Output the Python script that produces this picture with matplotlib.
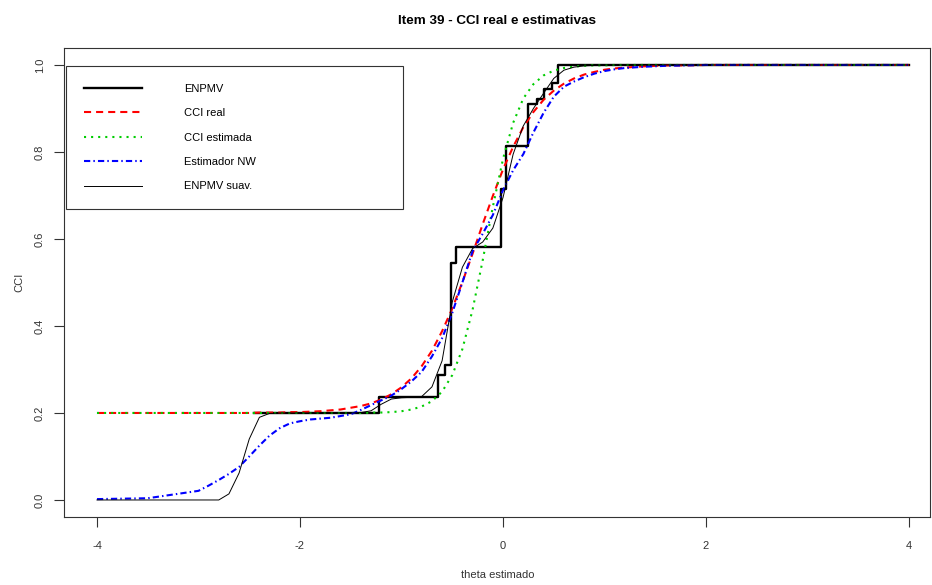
import matplotlib
matplotlib.use("Agg")
import matplotlib.pyplot as plt

plt.rcParams['font.family'] = ['Liberation Sans', 'DejaVu Sans']
plt.rcParams['axes.unicode_minus'] = False

# grid of theta values used for the smooth curves
theta = [-4.0, -3.5, -3.0, -2.9, -2.8, -2.7, -2.6, -2.5, -2.4, -2.3, -2.2, -2.1,
         -2.0, -1.9, -1.8, -1.7, -1.6, -1.5, -1.4, -1.3, -1.2, -1.1, -1.0, -0.9,
         -0.8, -0.7, -0.6, -0.5, -0.4, -0.3, -0.2, -0.1, 0.0, 0.1, 0.2, 0.3,
         0.4, 0.5, 0.6, 0.7, 0.8, 0.9, 1.0, 1.1, 1.2, 1.4, 1.6, 1.8, 2.0,
         2.5, 3.0, 3.5, 4.0]

cci_real = [0.200, 0.200, 0.200, 0.200, 0.200, 0.200, 0.200, 0.200, 0.201, 0.201, 0.201, 0.202,
            0.202, 0.203, 0.204, 0.206, 0.208, 0.212, 0.216, 0.222, 0.231, 0.243, 0.259, 0.280,
            0.308, 0.343, 0.388, 0.440, 0.501, 0.566, 0.634, 0.699, 0.760, 0.812, 0.857, 0.892,
            0.920, 0.941, 0.957, 0.969, 0.978, 0.984, 0.989, 0.992, 0.994, 0.997, 0.999, 0.999, 1.000,
            1.000, 1.000, 1.000, 1.000]

cci_est = [0.200, 0.200, 0.200, 0.200, 0.200, 0.200, 0.200, 0.200, 0.200, 0.200, 0.200, 0.200,
           0.200, 0.200, 0.200, 0.200, 0.200, 0.200, 0.200, 0.201, 0.201, 0.202, 0.204, 0.208,
           0.215, 0.227, 0.249, 0.287, 0.347, 0.437, 0.551, 0.674, 0.784, 0.867, 0.923, 0.956,
           0.976, 0.987, 0.993, 0.996, 0.998, 0.999, 0.999, 1.000, 1.000, 1.000, 1.000, 1.000, 1.000,
           1.000, 1.000, 1.000, 1.000]

nw = [0.002, 0.004, 0.021, 0.033, 0.046, 0.060, 0.076, 0.100, 0.125, 0.148, 0.165, 0.176,
      0.181, 0.185, 0.187, 0.189, 0.193, 0.197, 0.207, 0.218, 0.229, 0.240, 0.255, 0.273,
      0.295, 0.330, 0.372, 0.430, 0.500, 0.572, 0.612, 0.655, 0.712, 0.758, 0.795, 0.845,
      0.890, 0.927, 0.950, 0.962, 0.972, 0.980, 0.986, 0.990, 0.993, 0.996, 0.998, 0.999, 1.000,
      1.000, 1.000, 1.000, 1.000]

enpmv_suav = [0.000, 0.000, 0.000, 0.000, 0.000, 0.014, 0.062, 0.140, 0.190, 0.199, 0.200, 0.200,
              0.200, 0.200, 0.200, 0.200, 0.200, 0.200, 0.201, 0.205, 0.220, 0.232, 0.235, 0.236,
              0.238, 0.260, 0.320, 0.455, 0.535, 0.578, 0.593, 0.625, 0.695, 0.795, 0.860, 0.900,
              0.935, 0.969, 0.988, 0.995, 0.998, 0.999, 1.000, 1.000, 1.000, 1.000, 1.000, 1.000, 1.000,
              1.000, 1.000, 1.000, 1.000]

# step function (value holds from each knot to the next)
enpmv_x = [-2.45, -1.22, -0.64, -0.57, -0.51, -0.46, -0.02, 0.025, 0.25, 0.33, 0.40, 0.48, 0.54, 4.0]
enpmv_y = [0.200, 0.237, 0.287, 0.310, 0.545, 0.582, 0.715, 0.814, 0.910, 0.922, 0.945, 0.959, 1.000, 1.000]

labels = ['ENPMV', 'CCI real', 'CCI estimada', 'Estimador NW', 'ENPMV suav.']

fig = plt.figure(figsize=(9.32, 5.85), dpi=100)
ax = fig.add_axes([0.0692, 0.1156, 0.9287, 0.8031])

ax.plot(enpmv_x, enpmv_y, drawstyle='steps-post', color='black', lw=1.7, label=labels[0])
ax.plot(theta, cci_real, color='#ff0000', lw=1.5, ls=(0, (3.4, 2.4)), label=labels[1])
ax.plot(theta, cci_est, color='#00cd00', lw=1.5, ls=(0, (1, 2.4)), label=labels[2])
ax.plot(theta, nw, color='#0000ff', lw=1.5, ls=(0, (3, 1.5, 0.7, 1.5)), label=labels[3])
ax.plot(theta, enpmv_suav, color='black', lw=0.7, label=labels[4])

ax.set_xlim(-4.32, 4.207)
ax.set_ylim(-0.04, 1.04)
ax.set_xticks([-4, -2, 0, 2, 4])
ax.set_yticks([0.0, 0.2, 0.4, 0.6, 0.8, 1.0])
ax.set_yticklabels(['0.0', '0.2', '0.4', '0.6', '0.8', '1.0'])
ax.tick_params(length=7, width=0.8, colors='#333333', labelsize=8)
ax.tick_params(axis='x', pad=10)
ax.tick_params(axis='y', pad=7, labelrotation=90)
for t in ax.get_yticklabels():
    t.set_va('center')
for s in ax.spines.values():
    s.set_linewidth(0.8)
    s.set_color('#333333')

ax.set_xlabel('theta estimado', fontsize=8, labelpad=14, color='#333333')
ax.set_ylabel('CCI', fontsize=8, labelpad=8, color='#333333')
ax.set_title('Item 39 - CCI real e estimativas', fontsize=9.7, fontweight='bold', pad=17)

leg = ax.legend(loc='upper left', bbox_to_anchor=(0.0017, 0.656, 0.389, 0.305),
                mode='expand', borderaxespad=0, fontsize=8, frameon=True, fancybox=False,
                handlelength=5.2, handletextpad=3.8, labelspacing=1.3, borderpad=1.6)
leg.get_frame().set_edgecolor('#333333')
leg.get_frame().set_linewidth(0.8)
leg.get_frame().set_alpha(1)

fig.savefig('out.png', dpi=100)
